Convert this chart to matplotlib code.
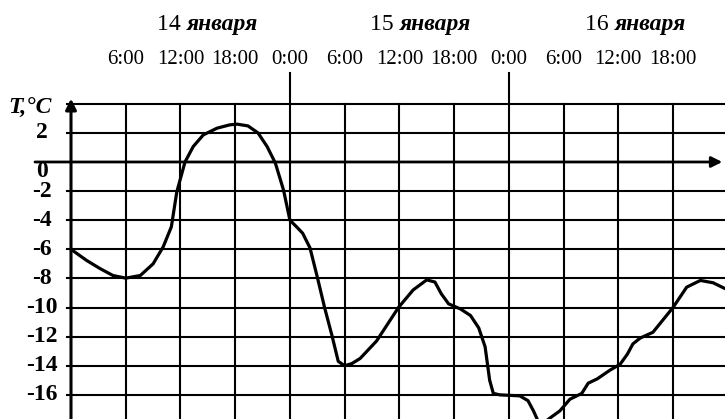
import matplotlib.pyplot as plt

# temperature readings: hours since 14 January 0:00, degrees C
hours = [0, 1.7, 3.2, 4.6, 6.0, 7.6, 9.0, 10.1, 11.0, 11.6, 12.5, 13.4, 14.5,
         16.0, 17.4, 18.2, 19.4, 20.5, 21.5, 22.4, 23.3, 24.0, 24.8, 25.4,
         26.2, 27.0, 27.8, 28.6, 29.3, 30.0, 30.8, 31.7, 33.5, 35.9, 37.5,
         39.0, 39.9, 40.6, 41.4, 42.7, 43.8, 44.7, 45.4, 45.9, 46.3, 47.0,
         49.2, 50.1, 50.7, 51.2, 51.7, 52.5, 53.6, 54.7, 56.0, 56.7, 57.7,
         59.1, 60.2, 61.0, 61.6, 62.4, 63.8, 66.0, 67.5, 69.0, 70.4, 71.7]
temps = [-6.0, -6.76, -7.33, -7.8, -7.98, -7.8, -7.0, -5.84, -4.46, -2.05,
         0.0, 1.06, 1.86, 2.32, 2.55, 2.6, 2.48, 2.0, 1.06, -0.07, -1.93,
         -4.0, -4.5, -4.9, -5.9, -7.9, -10.0, -11.9, -13.7, -14.0, -13.85,
         -13.5, -12.3, -10.0, -8.8, -8.1, -8.25, -9.06, -9.75, -10.1, -10.55,
         -11.4, -12.7, -15.0, -15.9, -16.0, -16.07, -16.4, -17.1, -17.8,
         -18.0, -17.6, -17.1, -16.3, -15.9, -15.2, -14.9, -14.3, -13.9,
         -13.2, -12.5, -12.1, -11.7, -10.0, -8.6, -8.14, -8.3, -8.7]

y_ticks = [2, 0, -2, -4, -6, -8, -10, -12, -14, -16]
grid_temps = [4, 2, 0, -2, -4, -6, -8, -10, -12, -14, -16]
grid_hours = [6, 12, 18, 24, 30, 36, 42, 48, 54, 60, 66]
time_labels = ["6:00", "12:00", "18:00", "0:00", "6:00", "12:00", "18:00",
               "0:00", "6:00", "12:00", "18:00"]
day_labels = ["14", "15", "16"]
day_pos = [12.7, 36.0, 59.6]

serif = ["Liberation Serif", "DejaVu Serif"]

fig = plt.figure(figsize=(7.25, 4.19), dpi=100)
ax = fig.add_axes([0, 0, 1, 1])
ax.set_xlim(-7.784, 71.70)
ax.set_ylim(-17.66, 11.13)
ax.axis("off")

# grid
for t in grid_temps:
    if t == 0:
        continue
    ax.plot([-0.4, 72], [t, t], color="black", lw=1.5)
for h in grid_hours:
    top = 6.14 if h % 24 == 0 else 4
    ax.plot([h, h], [-18, top], color="black", lw=1.5)

# axes with arrows
ax.annotate("", xy=(0, 4.35), xytext=(0, -18),
            arrowprops=dict(arrowstyle="-|>", lw=2.2, color="black",
                            mutation_scale=16, shrinkA=0, shrinkB=0))
ax.annotate("", xy=(71.4, 0), xytext=(-3.95, 0),
            arrowprops=dict(arrowstyle="-|>", lw=2.0, color="black",
                            mutation_scale=16, shrinkA=0, shrinkB=0))

# curve
ax.plot(hours, temps, color="black", lw=2.3, solid_joinstyle="round",
        solid_capstyle="round")

# labels
for t in y_ticks:
    y = -0.68 if t == 0 else t
    ax.text(-3.2, y, str(t), ha="center", va="center",
            fontsize=17, fontweight="bold", family=serif)
ax.text(-4.55, 3.65, "T,°C", ha="center", va="center", fontsize=17,
        fontstyle="italic", fontweight="bold", family=serif)

for h, lab in zip(grid_hours, time_labels):
    ax.text(h, 7.05, lab, ha="center", va="center", fontsize=15,
            family=serif)

for x, d in zip(day_pos, day_labels):
    ax.text(x, 9.45, d + " ", ha="right", va="center", fontsize=17,
            family=serif)
    ax.text(x, 9.45, "января", ha="left", va="center", fontsize=17,
            fontstyle="italic", fontweight="bold", family=serif)

fig.savefig("out.png", dpi=100)
